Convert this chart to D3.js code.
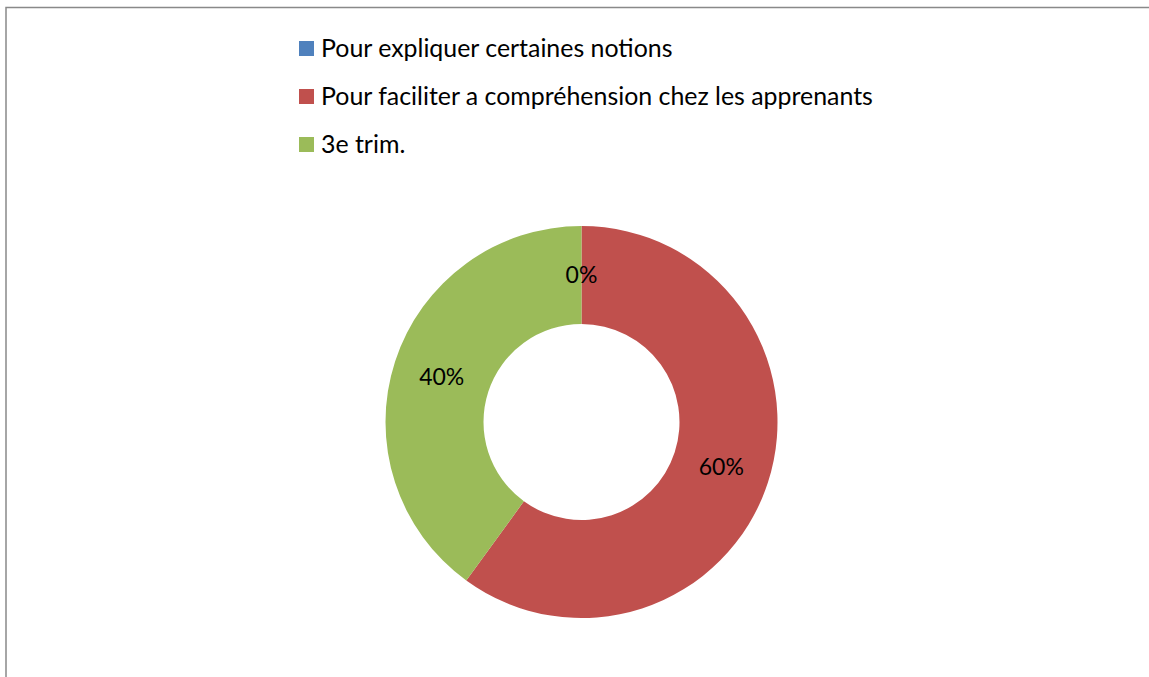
<!DOCTYPE html>
<html>
<head>
<meta charset="utf-8">
<script src="https://cdn.jsdelivr.net/npm/d3@7"></script>
<style>
  html, body { margin: 0; padding: 0; background: #fff; }
  svg { display: block; }
</style>
</head>
<body>
<svg id="chart"></svg>
<script>
const categories = [
    "Pour expliquer certaines notions",
    "Pour faciliter a compréhension chez les apprenants",
    "3e trim."
];
const values = [0, 60, 40];
const colors = ["#4F81BD", "#C0504D", "#9BBB59"];

const width = 1149;
const height = 677;
const fontFamily = "Lato, 'Open Sans', sans-serif";
const legendSize = 24.9;
const labelSize = 23;

const svg = d3.select("#chart").attr("width", width).attr("height", height);

// chart area border (only top and left visible in the crop)
svg.append("path")
    .attr("d", "M6,678 V7.5 H1150")
    .attr("fill", "none")
    .attr("stroke", "#898989")
    .attr("stroke-width", 1.5);

const cx = 581.5, cy = 422;
const outerR = 196, innerR = 98;

const pie = d3.pie().sort(null).value(function (d) { return d; });
const arc = d3.arc().innerRadius(innerR).outerRadius(outerR);
const total = d3.sum(values);
const arcs = pie(values);

const g = svg.append("g").attr("transform", "translate(" + cx + "," + cy + ")");

g.selectAll("path")
    .data(arcs)
    .enter()
    .append("path")
    .attr("d", arc)
    .attr("fill", function (d, i) { return colors[i]; });

g.selectAll("text")
    .data(arcs)
    .enter()
    .append("text")
    .attr("transform", function (d) { return "translate(" + arc.centroid(d) + ")"; })
    .attr("text-anchor", "middle")
    .attr("dy", "0.35em")
    .attr("font-family", fontFamily)
    .attr("font-size", labelSize)
    .attr("fill", "#000")
    .text(function (d) { return Math.round(d.value / total * 100) + "%"; });

// legend
const legend = svg.append("g").attr("transform", "translate(299,41)");
const item = legend.selectAll("g")
    .data(categories)
    .enter()
    .append("g")
    .attr("transform", function (d, i) { return "translate(0," + (i * 48) + ")"; });

item.append("rect")
    .attr("width", 15)
    .attr("height", 15)
    .attr("fill", function (d, i) { return colors[i]; });

item.append("text")
    .attr("x", 22)
    .attr("y", 7.5)
    .attr("dy", "0.35em")
    .attr("font-family", fontFamily)
    .attr("font-size", legendSize)
    .attr("fill", "#000")
    .text(function (d) { return d; });
</script>
</body>
</html>
